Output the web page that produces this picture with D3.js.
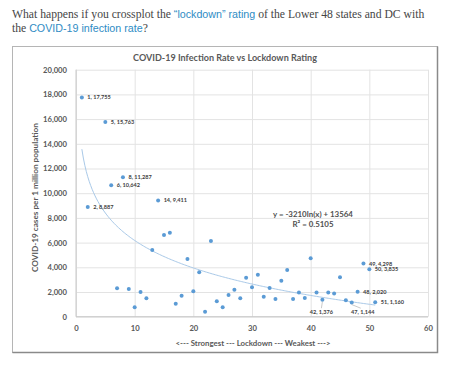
<!DOCTYPE html>
<html><head><meta charset="utf-8">
<script src="https://cdn.jsdelivr.net/npm/d3@7"></script>
<style>body{margin:0;background:#fff}svg{display:block}</style>
</head><body>
<script>
const ratings = [1,2,5,6,7,8,9,10,11,12,13,14,15,16,17,18,19,20,21,22,23,24,25,26,27,28,29,30,31,32,33,34,35,36,37,38,39,40,41,42,43,44,45,46,47,48,49,50,51];
const cases = [17755,8887,15763,10642,2300,11287,2250,760,2000,1500,5400,9411,6620,6800,1050,1700,4670,2060,3600,400,6130,1250,760,1760,2190,1490,3160,2380,3400,1620,2320,1430,2920,3780,1430,1950,1510,4730,1950,1376,1950,1870,3190,1330,1144,2020,4298,3835,1160];
const labeledRatings = [1,5,8,6,14,2,49,50,48,51,42,47];
const belowLabeled = [42,47];
const xTicks = [0,10,20,30,40,50,60];
const yTicks = [0,2000,4000,6000,8000,10000,12000,14000,16000,18000,20000];
const trendA = -3210, trendB = 13564, trendR2 = "0.5105";

const W = 450, H = 365;
const svg = d3.select("body").append("svg").attr("width", W).attr("height", H);
function fitSize(sel, target){ // scale font-size so text width matches target
  const node = sel.node(); const fs = parseFloat(sel.attr("font-size"));
  const w = node.getComputedTextLength(); if (w>0) sel.attr("font-size", fs*target/w);
  return sel;
}

// heading
const head = svg.append("g").attr("font-family","'Liberation Serif','DejaVu Serif',serif").attr("fill","#454545");
const serif = 12, sans = 11;
const l1 = head.append("text").attr("x",12).attr("y",18).attr("font-size",serif);
l1.append("tspan").text("What happens if you crossplot the ");
l1.append("tspan").attr("class","lnk").attr("fill","#2f8cc4").attr("font-family","'Liberation Sans',Arial,sans-serif").attr("font-size",sans).text("\u201Clockdown\u201D rating");
l1.append("tspan").text(" of the Lower 48 states and DC with");
const l2 = head.append("text").attr("x",12).attr("y",31.5).attr("font-size",serif);
l2.append("tspan").text("the ");
l2.append("tspan").attr("class","lnk").attr("fill","#2f8cc4").attr("font-family","'Liberation Sans',Arial,sans-serif").attr("font-size",sans).text("COVID-19 infection rate");
l2.append("tspan").text("?");
{
  const w = l1.node().getComputedTextLength(); const k = 413 / w;
  l1.attr("font-size", serif*k); l2.attr("font-size", serif*k);
  head.selectAll(".lnk").attr("font-size", sans*k);
}

// chart box
svg.append("rect").attr("x",12.5).attr("y",46.5).attr("width",425).attr("height",306).attr("fill","#fff").attr("stroke","#b5b5b5");
svg.append("path").attr("d","M437.5,46.5V352.5H12.5").attr("fill","none").attr("stroke","#8a8a8a").attr("stroke-width",1.5);

const x = d3.scaleLinear().domain([0,60]).range([76,428]);
const y = d3.scaleLinear().domain([0,20000]).range([316.7,69.7]);
const font = "Lato,'Open Sans',sans-serif";

// title
fitSize(svg.append("text").attr("x",225).attr("y",60.5).attr("text-anchor","middle").attr("font-family",font).attr("font-weight","bold").attr("font-size",9.6).attr("fill","#595959").text("COVID-19 Infection Rate vs Lockdown Rating"), 184);

// gridlines
const g = svg.append("g");
g.append("g").attr("transform",`translate(${x(0)},0)`)
  .call(d3.axisLeft(y).tickValues(yTicks).tickSize(-(x(60)-x(0))).tickFormat(""))
  .call(a=>{a.select(".domain").remove();a.selectAll("line").attr("stroke","#e3e3e3");});
g.append("g").attr("transform",`translate(0,${y(0)})`)
  .call(d3.axisBottom(x).tickValues(xTicks).tickSize(-(y(0)-y(20000))).tickFormat(""))
  .call(a=>{a.select(".domain").remove();a.selectAll("line").attr("stroke","#e3e3e3");});
svg.append("line").attr("x1",x(0)).attr("x2",x(60)).attr("y1",y(0)).attr("y2",y(0)).attr("stroke","#c8c8c8");
svg.append("line").attr("x1",x(0)).attr("x2",x(0)).attr("y1",y(0)).attr("y2",y(20000)).attr("stroke","#c8c8c8");

// tick labels
const fmt = d3.format(",");
const tmp = svg.append("text").attr("font-family",font).attr("font-weight","bold").attr("font-size",6.6).text("20,000");
fitSize(tmp, 24); const tickFs = parseFloat(tmp.attr("font-size")); tmp.remove();
svg.append("g").attr("transform",`translate(${x(0)-6},0)`)
  .call(d3.axisLeft(y).tickValues(yTicks).tickSize(0).tickFormat(fmt))
  .call(a=>{a.select(".domain").remove();a.selectAll("text").attr("font-family",font).attr("font-weight","bold").attr("font-size",tickFs).attr("fill","#595959");});
svg.append("g").attr("transform",`translate(0,${y(0)+6})`)
  .call(d3.axisBottom(x).tickValues(xTicks).tickSize(0).tickFormat(d3.format("d")))
  .call(a=>{a.select(".domain").remove();a.selectAll("text").attr("font-family",font).attr("font-weight","bold").attr("font-size",tickFs).attr("fill","#595959");});

// axis titles
fitSize(svg.append("text").attr("transform","translate(38,197.5) rotate(-90)").attr("text-anchor","middle").attr("font-family",font).attr("font-weight","bold").attr("font-size",7.8).attr("fill","#595959").text("COVID-19 cases per 1 million population"), 149);
fitSize(svg.append("text").attr("x",253).attr("y",346).attr("text-anchor","middle").attr("font-family",font).attr("font-weight","bold").attr("font-size",7.8).attr("fill","#595959").text("<--- Strongest --- Lockdown --- Weakest --->"), 155);

// trendline
const trendX = d3.range(1, 51.001, 0.25);
svg.append("path").datum(trendX)
  .attr("d", d3.line().x(d=>x(d)).y(d=>y(trendA*Math.log(d)+trendB)))
  .attr("fill","none").attr("stroke","#a9c9e8").attr("stroke-width",1);

// equation
const eq = fitSize(svg.append("text").attr("x",313).attr("y",216.5).attr("text-anchor","middle").attr("font-family",font).attr("font-weight","bold").attr("font-size",7.4).attr("fill","#505050").text(`y = ${trendA}ln(x) + ${trendB}`), 80);
svg.append("text").attr("x",313).attr("y",227).attr("text-anchor","middle").attr("font-family",font).attr("font-weight","bold").attr("font-size",eq.attr("font-size")).attr("fill","#505050").text(`R\u00B2 = ${trendR2}`);

// points
const data = ratings.map((r,i)=>({r, v:cases[i]}));
svg.append("g").selectAll("circle").data(data).join("circle")
  .attr("cx",d=>x(d.r)).attr("cy",d=>y(d.v)).attr("r",2).attr("fill","#5b9bd5");

// labels
const tmp2 = svg.append("text").attr("font-family",font).attr("font-weight","bold").attr("font-size",6).text("1, 17,755");
fitSize(tmp2, 23.4); const labFs = parseFloat(tmp2.attr("font-size")); tmp2.remove();
const lab = data.filter(d=>labeledRatings.includes(d.r));
const lg = svg.append("g").attr("font-family",font).attr("font-weight","bold").attr("font-size",labFs).attr("fill","#404040");
lab.forEach(d=>{
  const t = `${d.r}, ${fmt(d.v)}`;
  if (belowLabeled.includes(d.r)) {
    const lx = x(d.r) + (d.r===47 ? 11 : -1), ly = y(0) - 2.5;
    svg.append("line").attr("x1",x(d.r)).attr("y1",y(d.v)+2).attr("x2",d.r===47?lx-2:lx).attr("y2",ly-6).attr("stroke","#a6a6a6").attr("stroke-width",0.6);
    lg.append("text").attr("x",lx).attr("y",ly).attr("text-anchor","middle").text(t);
  } else {
    lg.append("text").attr("x",x(d.r)+5.5).attr("y",y(d.v)+2).text(t);
  }
});
</script>
</body></html>
